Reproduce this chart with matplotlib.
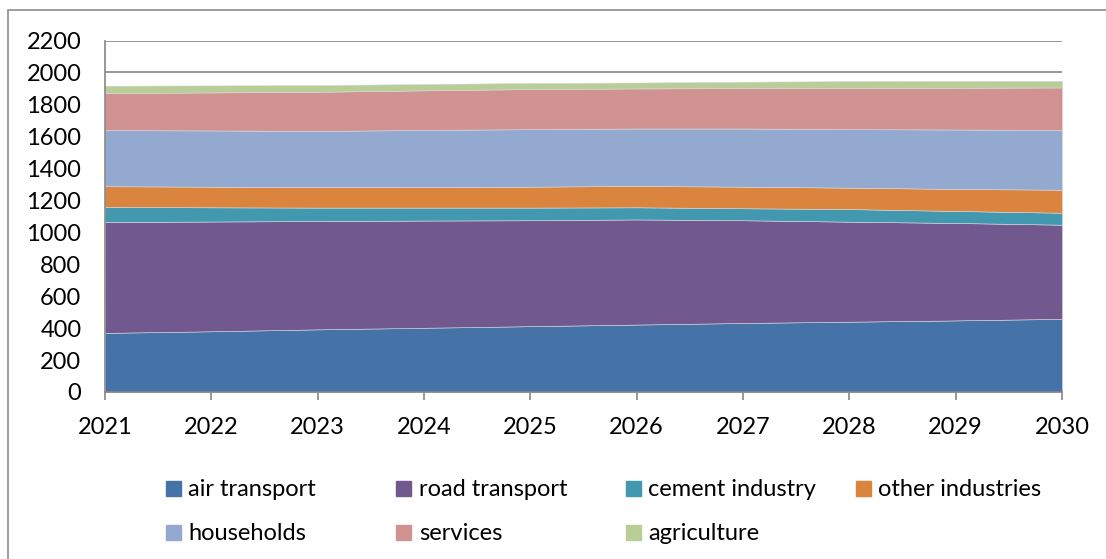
import matplotlib
matplotlib.use("Agg")
import matplotlib.pyplot as plt
from matplotlib.patches import Rectangle
from matplotlib.lines import Line2D

plt.rcParams['font.family'] = ['Lato', 'DejaVu Sans']

years = [2021, 2022, 2023, 2024, 2025, 2026, 2027, 2028, 2029, 2030]
series_names = ["air transport", "road transport", "cement industry", "other industries",
                "households", "services", "agriculture"]
air_transport = [370, 380, 392, 402, 412, 422, 432, 440, 448, 458]
road_transport = [694, 687, 678, 671, 663, 658, 643, 626, 610, 589]
cement_industry = [94, 89, 84, 81, 79, 76, 75, 79, 75, 75]
other_industries = [130, 129, 129, 130, 131, 134, 135, 134, 138, 144]
households = [351, 352, 351, 356, 360, 359, 364, 366, 372, 373]
services = [232, 238, 245, 248, 251, 251, 253, 257, 261, 267]
agriculture = [46, 44, 42, 40, 38, 37, 40, 44, 44, 42]
colors = ["#4573A7", "#71588F", "#4198AF", "#DB843D", "#93A9CF", "#D19392", "#B9CD96"]
y_ticks = list(range(0, 2201, 200))

data = [air_transport, road_transport, cement_industry, other_industries,
        households, services, agriculture]

W, H = 1106, 559
FS = 17
fig = plt.figure(figsize=(W / 100, H / 100), dpi=100)
# outer chart border (only left and top edges fall inside the image)
fig.patches.append(Rectangle((8 / W, -20 / H), (1130 - 8) / W, (H - 10 + 20) / H,
                             transform=fig.transFigure, fill=False,
                             edgecolor="#8C8C8C", linewidth=1.2))
ax = fig.add_axes([105 / W, 1 - 392 / H, (1062 - 105) / W, (392 - 40.5) / H])

ax.stackplot(years, *data, colors=colors, edgecolor="#D8D8E0", linewidth=0.4, zorder=2)
ax.set_xlim(years[0], years[-1])
ax.set_ylim(0, 2200)
ax.set_yticks(y_ticks)
ax.set_xticks(years)
ax.set_xticklabels([str(y) for y in years])
ax.yaxis.grid(True, color="#868686", linewidth=1.2, zorder=0)
ax.set_axisbelow(True)
ax.tick_params(axis="y", length=0, pad=17, labelsize=FS, colors="black")
ax.tick_params(axis="x", length=6, width=1.2, color="#868686", pad=12, labelsize=FS)
for s in ["left", "bottom"]:
    ax.spines[s].set_color("#868686")
    ax.spines[s].set_linewidth(1.2)
ax.spines["top"].set_visible(False)
ax.spines["right"].set_visible(False)

# legend entries placed individually (Excel-style equal column spacing)
col_x = [165, 396, 625, 855]
row_y = [489.5, 534]
fs_px = FS * 100 / 72
for i, (name, c) in enumerate(zip(series_names, colors)):
    r, k = divmod(i, 4)
    h = Line2D([], [], marker="s", linestyle="none", markersize=10.8,
               markerfacecolor=c, markeredgecolor=c)
    fig.legend([h], [name], loc="center left",
               bbox_to_anchor=(col_x[k] / W, 1 - row_y[r] / H),
               frameon=False, fontsize=FS, handlelength=15 / fs_px,
               handletextpad=8 / fs_px, borderpad=0, borderaxespad=0)

fig.savefig("out.png", dpi=100)
